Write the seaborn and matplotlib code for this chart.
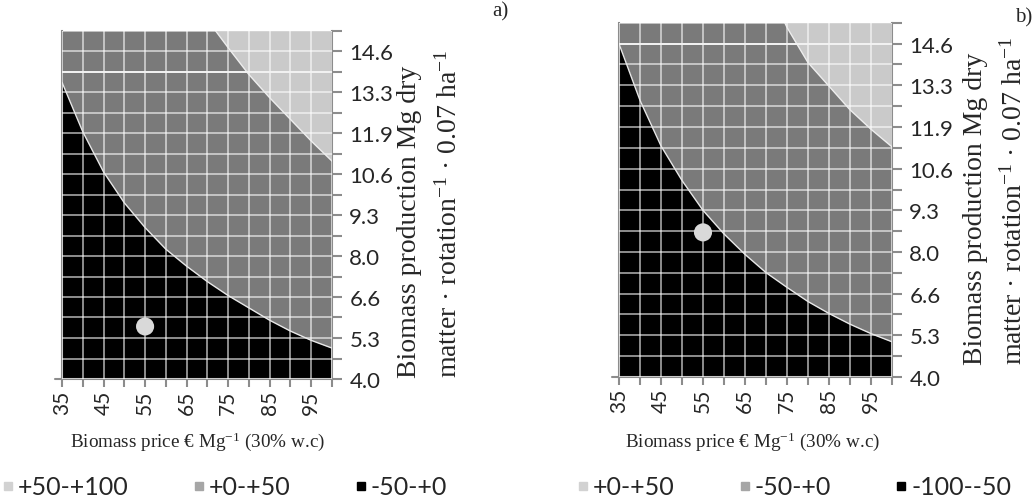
import matplotlib
matplotlib.use('Agg')
import matplotlib.pyplot as plt
import seaborn as sns
from matplotlib.lines import Line2D

# x axis: biomass price (€ Mg-1), grid every 5, labels every 10
price = [35, 40, 45, 50, 55, 60, 65, 70, 75, 80, 85, 90, 95, 100]
price_labels = [35, 45, 55, 65, 75, 85, 95]

# y axis: biomass production, grid lines and labels (every other line)
yield_ticks = [4.0, 4.66, 5.33, 5.99, 6.65, 7.31, 7.98, 8.64, 9.3,
               9.96, 10.63, 11.29, 11.95, 12.61, 13.28, 13.94, 14.6, 15.26]
yield_labels = ['4.0', '5.3', '6.6', '8.0', '9.3', '10.6', '11.9', '13.3', '14.6']

# panel a) band boundaries
a_low = [13.6, 12.0, 10.7, 9.7, 8.9, 8.2, 7.65, 7.15, 6.7, 6.3, 5.9, 5.55, 5.25, 5.0]
a_high_price = [72, 75, 80, 85, 90, 95, 100]
a_high = [15.26, 14.72, 13.85, 13.1, 12.4, 11.7, 11.05]
a_point = (55, 5.7)
a_whiteline = 13.94
a_bands = ['+50-+100', '+0-+50', '-50-+0']

# panel b)
b_low = [14.6, 12.8, 11.35, 10.25, 9.3, 8.55, 7.9, 7.32, 6.85, 6.4, 6.02, 5.68, 5.38, 5.12]
b_high_price = [74.5, 75, 80, 85, 90, 95, 100]
b_high = [15.26, 15.12, 14.0, 13.25, 12.5, 11.88, 11.32]
b_point = (55, 8.6)
b_whiteline = 14.6
b_bands = ['+0-+50', '-50-+0', '-100--50']

sns.set_theme(style='white')
plt.rcParams['font.family'] = ['Lato', 'DejaVu Sans']
plt.rcParams['mathtext.fontset'] = 'custom'
plt.rcParams['mathtext.rm'] = 'Liberation Serif'
plt.rcParams['mathtext.it'] = 'Liberation Serif:italic'
serif = ['Liberation Serif', 'DejaVu Serif']

c_dark = '#000000'
c_mid = '#7a7a7a'
c_light = '#cacaca'
c_axis = '#8c8c8c'
legend_cols = ['#d2d2d2', '#a6a6a6', '#000000']

fig = plt.figure(figsize=(10.33, 5.02), dpi=100)
W, H = 1033, 502
ax_a = fig.add_axes([62 / W, 1 - 380 / H, 270 / W, 348 / H])
ax_b = fig.add_axes([619 / W, 1 - 378 / H, 273 / W, 354 / H])


def draw_panel(ax, low, high_x, high, point, whiteline):
    top = yield_ticks[-1]
    ax.set_facecolor(c_mid)
    ax.fill_between(price, yield_ticks[0], low, color=c_dark, lw=0, zorder=1)
    ax.fill_between(high_x, high, top, color=c_light, lw=0, zorder=1)
    sns.lineplot(x=price, y=low, ax=ax, color='#e8e8e8', lw=1.0, zorder=3)
    sns.lineplot(x=high_x, y=high, ax=ax, color='#eeeeee', lw=1.0, zorder=3)
    ax.axhline(whiteline, color='#f2f2f2', lw=1.4, zorder=3)
    sns.scatterplot(x=[point[0]], y=[point[1]], ax=ax, color='#d9d9d9',
                    s=170, edgecolor='none', zorder=4)

    ax.set_xlim(price[0], price[-1])
    ax.set_ylim(yield_ticks[0], top)
    ax.set_xticks(price)
    ax.set_xticklabels([str(p) if p in price_labels else '' for p in price])
    ax.set_yticks(yield_ticks)
    ylabs = []
    for i in range(len(yield_ticks)):
        ylabs.append(yield_labels[i // 2] if i % 2 == 0 else '')
    ax.set_yticklabels(ylabs)
    ax.yaxis.tick_right()

    ax.grid(True, color='white', alpha=0.65, lw=1.2)
    ax.set_axisbelow(False)
    ax.tick_params(axis='x', direction='out', length=6, width=1.5, color=c_axis,
                   rotation=90, pad=1.5, labelsize=15, bottom=True)
    ax.tick_params(axis='y', direction='out', length=7, width=1.5, color=c_axis,
                   pad=5.5, labelsize=16, left=False, right=True)
    ax.spines['top'].set_visible(False)
    for s in ['left', 'bottom', 'right']:
        ax.spines[s].set_color(c_axis)
        ax.spines[s].set_linewidth(1.5)
    ax.plot([-0.026, 0], [0, 0], transform=ax.transAxes, color=c_axis,
            lw=1.5, clip_on=False)
    ax.set_xlabel('')
    ax.set_ylabel('')


draw_panel(ax_a, a_low, a_high_price, a_high, a_point, a_whiteline)
draw_panel(ax_b, b_low, b_high_price, b_high, b_point, b_whiteline)

# axis titles
xlab = r'Biomass price € Mg$^{-1}$ (30% w.c)'
ylab1 = 'Biomass production Mg dry'
ylab2 = r'matter · rotation$^{-1}$ · 0.07 ha$^{-1}$'
for cx, x1, x2, ystart in [(197, 410, 449, 378), (752, 976, 1014, 365)]:
    fig.text(cx / W, 1 - 442 / H, xlab, family=serif, fontsize=13.8,
             ha='center', va='center')
    for xx, txt in [(x1, ylab1), (x2, ylab2)]:
        fig.text(xx / W, 1 - ystart / H, txt, family=serif, fontsize=20,
                 rotation=90, rotation_mode='anchor', ha='left', va='center')

fig.text(500 / W, 1 - 12 / H, 'a)', family=serif, fontsize=15, ha='center', va='center')
fig.text(1024 / W, 1 - 18 / H, 'b)', family=serif, fontsize=15, ha='center', va='center')

# legends
for x0, bands in [(3, a_bands), (578, b_bands)]:
    handles = [Line2D([], [], marker='s', linestyle='', color=c, markersize=6)
               for c in legend_cols]
    fig.legend(handles, bands, loc='center left', bbox_to_anchor=(x0 / W, 1 - 488 / H),
               ncol=3, frameon=False, fontsize=18, handlelength=0.4,
               handletextpad=0.2, columnspacing=2.6, borderpad=0, borderaxespad=0)

fig.savefig('out.png', dpi=100)
